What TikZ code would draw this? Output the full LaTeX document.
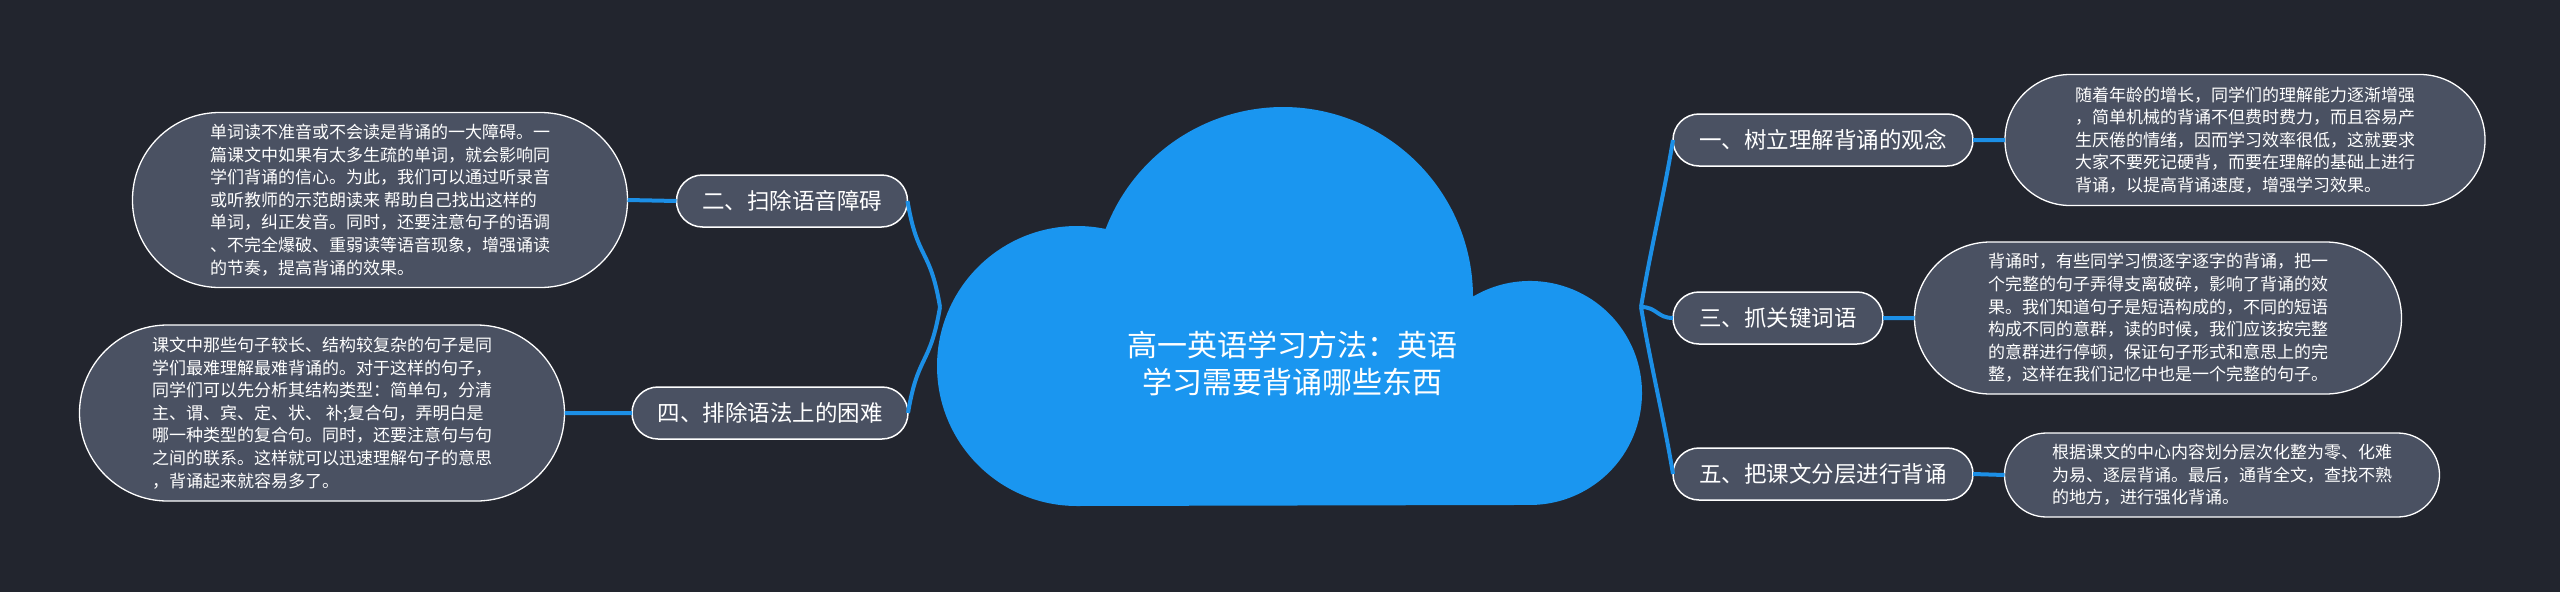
\documentclass[tikz,border=0pt]{standalone}
\usepackage{fontspec}
\setmainfont{Noto Sans CJK SC}
\definecolor{bgdark}{HTML}{22252E}
\definecolor{boxgray}{HTML}{4A5162}
\definecolor{cloudblue}{HTML}{1A96F0}
\definecolor{linkblue}{HTML}{1C8FE6}
\begin{document}
\begin{tikzpicture}
	[x=1pt,y=-1pt,
	every node/.style={inner sep=0pt,outer sep=0pt,text=white},
	topic/.style={shape=rectangle,draw=white,line width=1.5pt,fill=boxgray,
		rounded corners=26pt,minimum height=52pt,
		font=\fontsize{22.5}{27}\selectfont},
	detail/.style={shape=rectangle,draw=white,line width=1.3pt,fill=boxgray,
		align=left,font=\fontsize{17}{22.6}\selectfont},
	link/.style={draw=linkblue,line width=4pt}]
	\def\lx{792}\def\llx{770}
	\def\rx{1823}\def\rrx{1778}
	\fill[bgdark] (0,0) rectangle (2560,592);
	\fill[cloudblue] (1077,506) arc[start angle=90,end angle=281.8,radius=140]
		arc[start angle=201,end angle=359.85,radius=190]
		arc[start angle=239.4,end angle=450,radius=112] -- cycle;
	\node[align=center,font=\fontsize{30}{37}\selectfont] (title) at (1292,363)
		{高一英语学习方法：英语\\学习需要背诵哪些东西};
	\coordinate (jl) at (940,307);
	\coordinate (jr) at (1641,307);
	\node[topic,minimum width=300pt] (t1) at (\rx, 140)  {一、树立理解背诵的观念};
	\node[topic,minimum width=231pt] (t2) at (\lx, 201)  {二、扫除语音障碍};
	\node[topic,minimum width=210pt] (t3) at (\rrx, 318) {三、抓关键词语};
	\node[topic,minimum width=276pt] (t4) at (\llx, 413) {四、排除语法上的困难};
	\node[topic,minimum width=300pt] (t5) at (\rx, 474)  {五、把课文分层进行背诵};
	\node[detail,minimum width=480pt,minimum height=131pt,rounded corners=65pt] (d1) at (2245,140) {
		随着年龄的增长，同学们的理解能力逐渐增强\\
		，简单机械的背诵不但费时费力，而且容易产\\
		生厌倦的情绪，因而学习效率很低，这就要求\\
		大家不要死记硬背，而要在理解的基础上进行\\
		背诵，以提高背诵速度，增强学习效果。};
	\node[detail,minimum width=495pt,minimum height=175pt,rounded corners=87pt] (d2) at (380,200) {
		单词读不准音或不会读是背诵的一大障碍。一\\
		篇课文中如果有太多生疏的单词，就会影响同\\
		学们背诵的信心。为此，我们可以通过听录音\\
		或听教师的示范朗读来 帮助自己找出这样的\\
		单词，纠正发音。同时，还要注意句子的语调\\
		、不完全爆破、重弱读等语音现象，增强诵读\\
		的节奏，提高背诵的效果。};
	\node[detail,minimum width=487pt,minimum height=152pt,rounded corners=76pt] (d3) at (2158,318) {
		背诵时，有些同学习惯逐字逐字的背诵，把一\\
		个完整的句子弄得支离破碎，影响了背诵的效\\
		果。我们知道句子是短语构成的，不同的短语\\
		构成不同的意群，读的时候，我们应该按完整\\
		的意群进行停顿，保证句子形式和意思上的完\\
		整，这样在我们记忆中也是一个完整的句子。};
	\node[detail,minimum width=485pt,minimum height=176pt,rounded corners=88pt] (d4) at (322,413) {
		课文中那些句子较长、结构较复杂的句子是同\\
		学们最难理解最难背诵的。对于这样的句子，\\
		同学们可以先分析其结构类型：简单句，分清\\
		主、谓、宾、定、状、 补;复合句，弄明白是\\
		哪一种类型的复合句。同时，还要注意句与句\\
		之间的联系。这样就可以迅速理解句子的意思\\
		，背诵起来就容易多了。};
	\node[detail,minimum width=435pt,minimum height=84pt,rounded corners=42pt] (d5) at (2222,475) {
		根据课文的中心内容划分层次化整为零、化难\\
		为易、逐层背诵。最后，通背全文，查找不熟\\
		的地方，进行强化背诵。};
	\draw[link]
	(jr) .. controls +(10,-60) and +(-10,60) .. (t1.west)
	(jr) .. controls +(16,0) and +(-16,0) .. (t3.west)
	(jr) .. controls +(10,60) and +(-10,-60) .. (t5.west)
	(jl) .. controls +(-10,-60) and +(10,60) .. (t2.east)
	(jl) .. controls +(-10,60) and +(10,-60) .. (t4.east) ;
	\draw[link]
	(t1.east) -- (d1.west) (t3.east) -- (d3.west) (t5.east) -- (d5.west)
	(t2.west) -- (d2.east) (t4.west) -- (d4.east) ;
\end{tikzpicture}
\end{document}
